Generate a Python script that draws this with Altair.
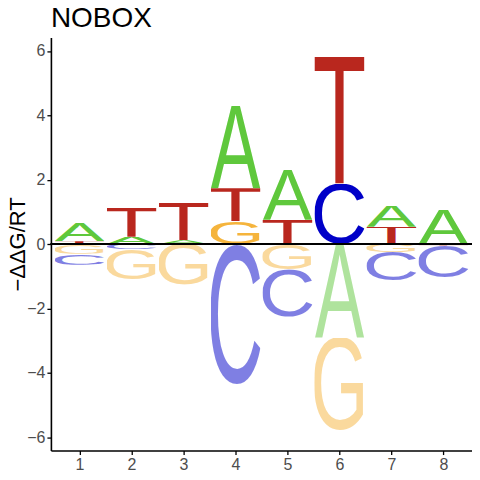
import altair as alt
import pandas as pd
from urllib.parse import quote

# ---- data (stacking order from zero outward, negative = below axis) ----
positions = [1, 1, 1, 1,
             2, 2, 2, 2,
             3, 3, 3,
             4, 4, 4, 4,
             5, 5, 5, 5,
             6, 6, 6, 6,
             7, 7, 7, 7,
             8, 8, 8]
letters = ["T", "A", "G", "C",
           "A", "T", "C", "G",
           "A", "T", "G",
           "G", "T", "A", "C",
           "T", "A", "G", "C",
           "C", "T", "A", "G",
           "T", "A", "G", "C",
           "A", "T", "C"]
values = [0.09, 0.57, -0.30, -0.34,
          0.23, 0.91, -0.15, -0.95,
          0.12, 1.16, -1.26,
          0.71, 1.03, 2.56, -4.34,
          0.76, 1.55, -0.78, -1.49,
          1.88, 3.93, -2.90, -2.90,
          0.54, 0.65, -0.24, -0.88,
          1.07, -0.05, -1.00]

title_text = "NOBOX"
y_title = "\u2212\u0394\u0394G/RT"
x_ticks = [1, 2, 3, 4, 5, 6, 7, 8]
y_ticks = [-6, -4, -2, 0, 2, 4, 6]

# ---- style ----
COLORS = {"A": "#5FC83C", "C": "#0000C8", "G": "#F5B43C", "T": "#B9271E"}
# glyph ink box in font units (em = 100), Liberation Sans metrics: x0, x1, top, bottom
INK = {"A": (-0.2, 66.9, 68.8, 0.0),
       "C": (5.0, 68.3, 70.0, -1.2),
       "G": (5.5, 72.1, 70.0, -1.2),
       "T": (2.3, 58.8, 68.8, 0.0)}


def glyph_url(letter, negative):
    x0, x1, top, bot = INK[letter]
    w, h = x1 - x0, top - bot
    op = 0.5 if negative else 1.0
    svg = (f'<svg xmlns="http://www.w3.org/2000/svg" width="{w:.1f}" height="{h:.1f}" '
           f'viewBox="{x0} {-top} {w:.1f} {h:.1f}" preserveAspectRatio="none">'
           f'<text x="0" y="0" font-family="Liberation Sans, Arial, sans-serif" '
           f'font-size="100" fill="{COLORS[letter]}" fill-opacity="{op}">{letter}</text></svg>')
    return "data:image/svg+xml;charset=utf-8," + quote(svg)


df = pd.DataFrame({"pos": positions, "letter": letters, "val": values})
df["neg"] = df["val"] < 0
df["y1"] = df.groupby(["pos", "neg"])["val"].cumsum()
df["y0"] = df["y1"] - df["val"]
df["x0"] = df["pos"] - 0.48
df["x1"] = df["pos"] + 0.48
df["url"] = [glyph_url(l, n) for l, n in zip(df["letter"], df["neg"])]

xscale = alt.Scale(domain=[0.45, 8.55], nice=False, zero=False)
yscale = alt.Scale(domain=[-6.41, 6.42], nice=False, zero=False)

letters_layer = alt.Chart(df).mark_image(aspect=False).encode(
    x=alt.X("x0:Q", scale=xscale,
            axis=alt.Axis(values=x_ticks, format="d", title=None, grid=False,
                          domainColor="black", domainWidth=1.6, tickColor="black",
                          tickWidth=1.3, tickSize=4, labelFontSize=16,
                          labelColor="#4D4D4D", labelFont="Liberation Sans",
                          labelPadding=2)),
    x2="x1:Q",
    y=alt.Y("y0:Q", scale=yscale,
            axis=alt.Axis(values=y_ticks, format="d", title=y_title, grid=False,
                          domainColor="black", domainWidth=1.6, tickColor="black",
                          tickWidth=1.3, tickSize=4, labelFontSize=16,
                          labelColor="#4D4D4D", labelFont="Liberation Sans",
                          labelPadding=2, titleFont="Liberation Sans",
                          titleFontSize=22, titleFontWeight="normal",
                          titleColor="black", titleAngle=270,
                          titleX=-26, titleY=207, titleAlign="center",
                          titleBaseline="alphabetic")),
    y2="y1:Q",
    url="url:N",
)

zero_line = alt.Chart(df).mark_rule(color="black", strokeWidth=1).encode(
    y=alt.datum(0)
)

chart = alt.layer(letters_layer, zero_line).properties(
    width=422, height=414,
    title=alt.TitleParams(title_text, anchor="start", font="Liberation Sans",
                          fontSize=28, fontWeight="normal", color="black",
                          offset=4, frame="group"),
    autosize=alt.AutoSizeParams(type="none"),
    padding={"left": 43, "top": 29, "right": 0, "bottom": 22},
    background="white",
).configure_view(stroke=None)

chart.save("out.html", embed_options={"renderer": "svg", "actions": False})
